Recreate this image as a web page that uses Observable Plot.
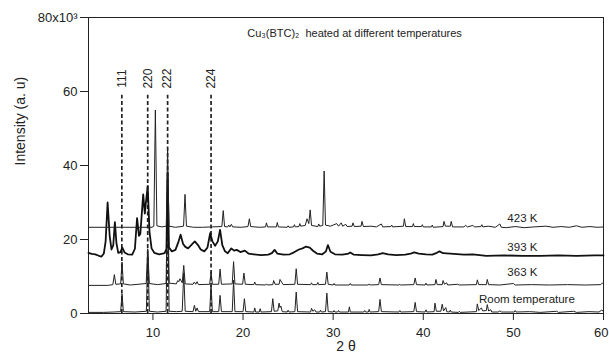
<!DOCTYPE html>
<html>
<head>
<meta charset="utf-8">
<script src="https://cdn.jsdelivr.net/npm/d3@7"></script>
<script src="https://cdn.jsdelivr.net/npm/@observablehq/plot@0.6"></script>
<style>
  html, body { margin: 0; padding: 0; background: #fff; }
  #chart { width: 609px; height: 353px; }
</style>
</head>
<body>
<div id="chart"></div>
<script>
// ---- Data (2θ in degrees, intensity in thousands) ----
const xTicks = [10, 20, 30, 40, 50, 60];
const yTicks = [0, 20, 40, 60, 80];
const planeLabels = ["111", "220", "222", "224"];
const planePositions = [6.55, 9.42, 11.63, 16.45];
const seriesNames = ["Room temperature", "363 K", "393 K", "423 K"];
const titleText = "Cu₃(BTC)₂  heated at different temperatures";

const roomTemp = [
[2.85,0.3],[4.5,0.3],[5.6,0.4],[6.42,0.5],[6.57,5.3],[6.72,0.5],[8,0.4],
[9.27,0.6],[9.44,16],[9.61,0.6],[10.5,0.4],
[11.46,0.6],[11.63,30],[11.8,0.6],[12.6,0.5],
[13.25,0.6],[13.42,11],[13.58,0.6],[14.45,0.5],[14.6,2.2],[14.75,0.6],[14.9,1.5],[15.05,0.5],
[16.3,0.5],[16.45,7.6],[16.6,0.5],[17.3,0.5],[17.45,4.9],[17.6,0.5],
[18.8,0.5],[18.95,9],[19.1,0.5],[20.0,0.5],[20.15,4.0],[20.3,0.5],
[21.2,0.4],[21.3,1.5],[21.4,0.4],[21.8,0.4],[21.9,1.3],[22.0,0.4],
[23.15,0.5],[23.3,4.0],[23.45,0.6],[23.85,0.7],[24.0,2.8],[24.1,1.6],[24.2,2.0],[24.35,0.5],
[24.9,0.4],[25.0,0.9],[25.1,0.4],[25.75,0.5],[25.9,5.8],[26.05,0.5],
[27.5,0.4],[27.6,1.4],[27.75,0.6],[27.95,1.0],[28.1,0.4],[28.5,0.4],[28.6,0.9],[28.7,0.4],
[29.15,0.5],[29.3,5.5],[29.45,0.5],[30.0,0.4],[30.1,0.8],[30.2,0.4],[30.5,0.4],[30.6,0.8],[30.7,0.4],
[31.7,0.4],[31.8,1.8],[31.9,0.4],[33.4,0.4],[33.5,0.8],[33.6,0.4],[33.9,0.4],[34.0,1.1],[34.1,0.4],
[35.05,0.5],[35.2,3.8],[35.35,0.5],[37.3,0.4],[37.4,0.8],[37.5,0.4],
[38.95,0.5],[39.1,3.0],[39.25,0.5],[40.2,0.4],[40.3,1.0],[40.4,0.4],
[41.2,0.5],[41.3,2.8],[41.45,0.6],[41.95,0.6],[42.1,2.5],[42.25,0.7],[42.5,1.6],[42.6,0.5],[42.9,0.4],[43.0,0.9],[43.1,0.4],
[43.9,0.3],[44.0,0.6],[44.1,0.3],[45.9,0.5],[46.0,2.6],[46.15,0.8],[46.45,1.5],[46.6,0.7],[47.0,0.8],[47.1,2.4],[47.25,0.7],[47.5,1.0],[47.6,0.4],
[48.3,0.4],[48.5,0.7],[48.7,0.4],[50.1,0.4],[50.2,0.8],[50.3,0.4],[51.8,0.5],[53,0.3],[54.8,0.6],[55.0,0.3],[56.7,0.6],[57,0.3],[58.4,0.5],[59.5,0.4],[59.8,0.9],[60,0.6]
];

const k363 = [
[2.85,7.6],[5.0,7.6],[5.55,7.8],[5.72,10.5],[5.88,7.9],[6.42,8.0],[6.57,13.9],[6.72,8.0],[7.5,7.7],
[9.25,8.1],[9.42,17.5],[9.6,8.1],[10.5,7.8],[11.46,8.1],[11.63,34],[11.8,8.2],
[12.6,8.0],[12.75,8.9],[12.88,8.6],[13.0,9.4],[13.25,8.3],[13.42,13],[13.58,8.0],
[14.45,7.9],[14.6,8.5],[14.75,7.9],[14.9,8.6],[15.05,7.8],[16.3,7.9],[16.45,11.2],[16.6,7.9],
[17.3,7.9],[17.45,12],[17.6,7.9],[18.8,8.0],[18.95,14],[19.1,8.0],[19.95,7.9],[20.1,10.9],[20.25,7.9],
[21.2,7.8],[21.3,8.5],[21.4,7.8],[22.5,7.7],[22.6,8.0],[22.7,7.7],[23.3,7.8],[23.4,8.9],[23.55,7.9],[24.0,7.9],[24.1,9.2],[24.3,8.4],[24.45,7.8],
[25.75,7.9],[25.9,12.1],[26.05,7.9],[27.5,7.8],[27.6,8.3],[27.7,7.8],[28.2,7.8],[28.3,8.4],[28.4,7.8],
[29.15,7.9],[29.3,11.2],[29.45,7.9],[30.0,7.7],[30.1,8.1],[30.2,7.7],[31.8,7.7],[31.9,8.1],[32.0,7.7],
[33.9,7.7],[34.0,8.0],[34.1,7.7],[35.05,7.8],[35.2,9.6],[35.35,7.8],[37.3,7.7],[37.4,7.9],[37.5,7.7],
[38.95,7.8],[39.1,9.6],[39.25,7.8],[40.2,7.7],[40.3,8.2],[40.4,7.7],
[41.3,7.8],[41.4,9.2],[41.55,7.8],[42.1,7.8],[42.2,8.9],[42.35,7.9],[42.6,8.3],[42.7,7.7],[43.8,7.9],[44.0,7.7],
[45.9,7.8],[46.0,9.1],[46.15,7.8],[47.0,7.8],[47.1,9.2],[47.25,7.8],[48.5,7.7],[50.0,8.1],[50.2,7.7],[52,7.8],[54,7.7],[56,7.8],[58,7.7],[59.7,7.8],[59.9,8.3],[60,8.0]
];

const k393 = [
[2.85,16.4],[3.2,16.1],[3.6,16.0],[4.0,15.6],[4.3,15.4],[4.55,16.2],[4.75,19.5],[4.97,30],[5.2,21],[5.4,17.3],[5.6,18.5],[5.78,24.7],[5.95,19],[6.15,16.4],[6.4,16.6],[6.6,17.8],[6.85,16.5],[7.2,16.0],[7.7,15.9],[8.0,17.5],[8.24,25.8],[8.45,21],[8.6,21.5],[8.92,32.2],[9.1,27],[9.22,30],[9.42,34.4],[9.62,22],[9.85,17.6],[10.15,16.4],[10.7,16.0],[11.3,16.3],[11.5,17.5],[11.63,38],[11.78,17.8],[12.1,16.8],[12.5,17.2],[12.85,19.5],[13.07,21.3],[13.35,18.8],[13.6,18.0],[13.9,17.6],[14.3,18.6],[14.65,19.5],[15.0,18.5],[15.3,17.3],[15.7,16.8],[16.05,17.8],[16.35,21.7],[16.6,19.5],[16.9,18.3],[17.2,19.5],[17.45,22.6],[17.7,18.5],[18.0,16.8],[18.3,16.3],[18.7,17.6],[19.0,17.0],[19.3,17.2],[19.7,16.6],[20.2,17.0],[20.6,16.2],[21.2,16.0],[22.0,15.8],[22.8,15.9],[23.2,16.3],[23.5,17.2],[23.8,16.2],[24.5,15.9],[25.2,16.0],[25.7,16.6],[26.2,17.3],[26.6,17.6],[27.0,18.1],[27.4,17.8],[27.8,16.9],[28.2,16.2],[28.8,16.0],[29.2,16.8],[29.42,18.5],[29.7,16.7],[30.2,16.0],[31.0,15.9],[31.6,16.1],[31.9,16.5],[32.3,15.9],[33.2,15.8],[34.2,15.7],[35.0,16.0],[35.5,16.3],[36.1,16.0],[37.0,15.8],[38.0,15.9],[38.6,16.2],[39.0,16.5],[39.5,16.2],[40.3,16.0],[41.0,15.9],[41.5,16.4],[41.8,16.8],[42.2,16.3],[43.0,16.2],[44.5,15.9],[45.5,16.0],[47,15.6],[49,15.7],[51,15.6],[53,15.6],[55,15.7],[57,15.6],[59,15.7],[60,15.7]
];

const k423 = [
[2.85,23.3],[6,23.3],[9.9,23.3],[10.1,23.6],[10.27,55],[10.44,23.7],[11.0,23.4],[11.48,23.6],[11.63,44.5],[11.78,23.6],[12.5,23.3],
[13.4,23.6],[13.56,32.2],[13.72,23.6],[14.5,23.3],[15.5,23.3],[16.5,23.4],[17.65,23.5],[17.8,27.8],[17.95,23.5],[18.3,23.4],[18.42,23.9],[18.55,23.4],[18.7,24.1],[18.85,23.4],[19.8,23.3],
[20.55,23.5],[20.7,25.6],[20.85,23.5],[21.8,23.3],[22.5,23.4],[22.6,24.5],[22.72,23.4],[23.7,23.4],[23.8,24.6],[23.92,23.4],[24.9,23.3],[25.0,23.7],[25.1,23.3],[25.6,23.4],[25.7,24.0],[25.8,23.4],[26.2,23.5],[26.3,24.3],[26.4,23.6],[26.9,23.8],[27.1,25.6],[27.3,24.3],[27.45,28],[27.6,23.8],[28.3,23.5],[28.4,24.2],[28.5,23.6],[28.85,23.8],[29.0,38.5],[29.15,23.9],[29.7,23.6],[30.0,23.9],[30.4,24.3],[30.6,23.6],[30.9,24.5],[31.05,23.6],[31.4,24.1],[31.55,23.5],[32.1,23.6],[32.2,24.5],[32.35,23.5],[33.1,23.6],[33.2,24.9],[33.35,23.5],[34.2,23.6],[34.8,23.4],[35.35,24.2],[35.5,23.4],[36.4,23.5],[36.5,23.9],[36.6,23.4],[37.8,23.6],[37.9,25.6],[38.05,23.5],[38.8,23.5],[38.9,24.3],[39.0,23.5],[39.8,23.5],[39.9,24.0],[40.0,23.4],[40.9,23.4],[41.0,23.9],[41.1,23.3],[42.2,23.5],[42.3,24.9],[42.45,23.6],[43.0,23.6],[43.1,24.9],[43.25,23.4],[44.5,23.4],[44.7,23.8],[44.9,23.4],[45.5,23.8],[45.7,23.4],[46.4,23.5],[46.5,24.0],[46.6,23.4],[47.2,23.6],[48.0,23.3],[48.5,24.2],[48.65,23.3],[49.2,23.2],[50.2,23.5],[51.2,23.2],[52.3,23.4],[53.6,23.6],[54.4,23.3],[55.3,23.5],[56.2,23.3],[57.0,23.7],[57.6,23.3],[58.5,23.5],[59.3,23.3],[60,23.4]
];

// ---- Build chart ----
const planes = planeLabels.map((label, i) => ({label, x: planePositions[i]}));
const font = "'Liberation Sans', Arial, Helvetica, sans-serif";
const lastTick = xTicks[xTicks.length - 1];

const chart = Plot.plot({
  width: 609,
  height: 353,
  marginLeft: 88,
  marginRight: 6,
  marginTop: 17,
  marginBottom: 40,
  style: {fontFamily: font, fontSize: "13px", color: "#222", background: "#fff"},
  x: {domain: [2.85, 60]},
  y: {domain: [0, 80]},
  marks: [
    Plot.frame({stroke: "#222", strokeWidth: 1}),
    Plot.axisX({ticks: xTicks, tickSize: 7, tickPadding: 7, label: null, fontSize: 13,
      tickFormat: d => d === lastTick ? "" : String(d)}),
    Plot.text([lastTick], {x: d => d, frameAnchor: "bottom", dy: 14, dx: 5, lineAnchor: "top",
      textAnchor: "end", text: d => String(d), fontSize: 13, fill: "#222"}),
    Plot.axisY({ticks: yTicks, tickSize: 8, tickPadding: 3, label: null, fontSize: 13,
      tickFormat: d => d === 80 ? "80x10³" : String(d)}),
    Plot.ruleX(planes, {x: "x", y1: 0, y2: 59, stroke: "#222", strokeWidth: 1.7, strokeDasharray: "4,2.5"}),
    Plot.text(planes, {x: "x", y: 63.5, text: "label", rotate: -90, fontSize: 12, fill: "#222"}),
    Plot.line(roomTemp, {stroke: "#222", strokeWidth: 1}),
    Plot.line(k363, {stroke: "#222", strokeWidth: 1}),
    Plot.line(k393, {stroke: "#111", strokeWidth: 1.8}),
    Plot.line(k423, {stroke: "#222", strokeWidth: 1}),
    Plot.text([seriesNames[0]], {x: 51.5, y: 3.8, text: d => d, fontSize: 11.5, fill: "#222"}),
    Plot.text([seriesNames[1]], {x: 51.0, y: 11.1, text: d => d, fontSize: 11.5, fill: "#222"}),
    Plot.text([seriesNames[2]], {x: 51.0, y: 18.0, text: d => d, fontSize: 11.5, fill: "#222"}),
    Plot.text([seriesNames[3]], {x: 51.0, y: 25.6, text: d => d, fontSize: 11.5, fill: "#222"}),
    Plot.text([titleText], {x: 20.46, y: 75.7, text: d => d, textAnchor: "start", fontSize: 11, fill: "#222"}),
    Plot.text(["Intensity (a. u)"], {frameAnchor: "left", dx: -68, rotate: -90, text: d => d, fontSize: 14, fill: "#222"}),
    Plot.text(["2 θ"], {frameAnchor: "bottom", dy: 37, text: d => d, fontSize: 14, fill: "#222"})
  ]
});
document.getElementById("chart").appendChild(chart);
</script>
</body>
</html>
